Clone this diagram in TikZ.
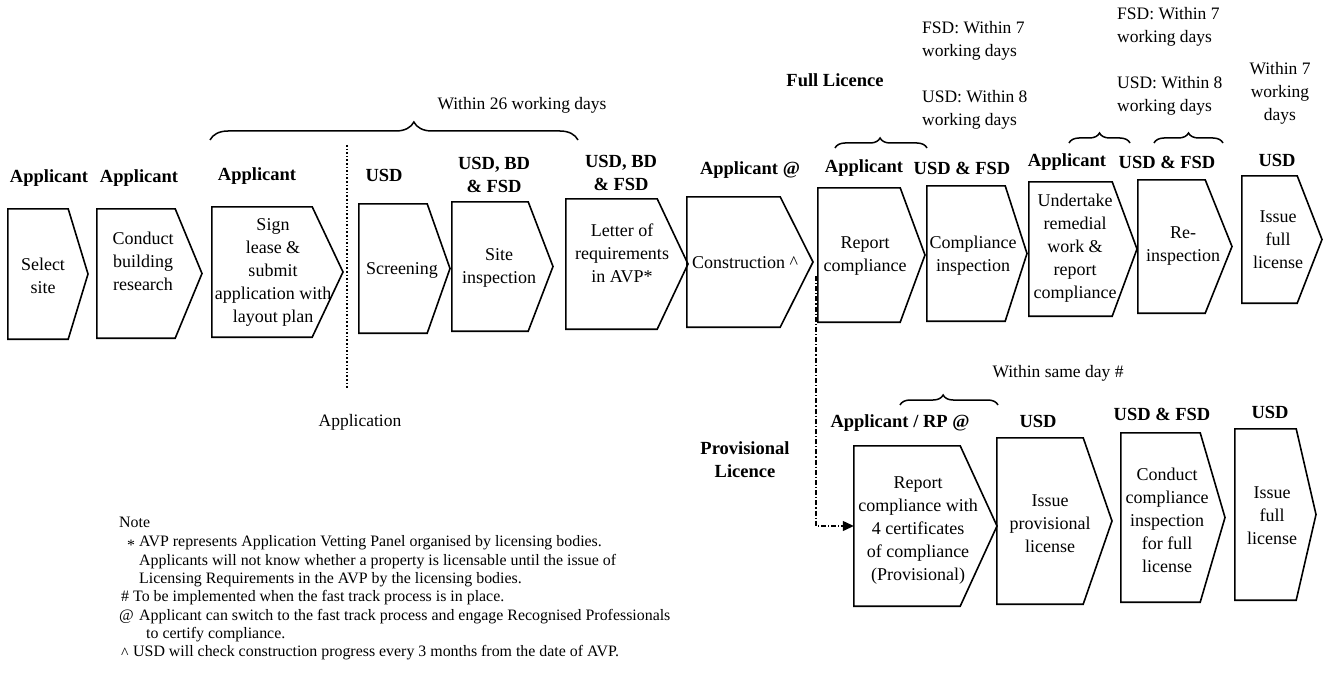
\documentclass[tikz,border=0pt]{standalone}
\usepackage{fontspec}
\setmainfont{Liberation Serif}
\usetikzlibrary{arrows.meta,decorations.pathreplacing,fit}
\tikzset{
  chev/.style={draw=black, line width=1.6pt, line join=miter},
  boxtext/.style={align=center, font=\fontsize{18}{23}\selectfont, inner sep=0pt},
  role/.style={align=center, font=\bfseries\fontsize{18.5}{23}\selectfont, inner sep=0pt},
  ann/.style={align=center, font=\fontsize{17.5}{23}\selectfont, inner sep=0pt},
  notetext/.style={font=\fontsize{15.9}{18.5}\selectfont, inner sep=0pt, anchor=base west},
  bracestyle/.style={decorate, line width=1.5pt},
  flow/.style={line width=1.2pt, dash pattern=on 5pt off 2pt on 1.2pt off 2pt, -{Triangle[length=11pt,width=10pt]}},
  divider/.style={dotted, line width=1.6pt}
}
\newcommand{\mkchev}[6]{%
  \node[fit={(#2,-#3) (#4,-#6)}, inner sep=0pt] (#1) {};
  \coordinate (#1-tip) at ({#5},{-(#3+#6)/2});
  \draw[chev] (#1.north west) -- (#1.north east) -- (#1-tip) -- (#1.south east) -- (#1.south west) -- cycle;
}
\begin{document}
\begin{tikzpicture}[x=1pt,y=1pt]
\fill[white] (0,0) rectangle (1328,-682);
\useasboundingbox (0,0) rectangle (1328,-682);

% upper row shapes
\mkchev{b1}{8}{209}{68}{88}{339}
\mkchev{b2}{97}{209}{175}{202}{338}
\mkchev{b3}{212}{207}{312}{343}{337}
\mkchev{b4}{359}{204}{427}{450}{333}
\mkchev{b5}{452}{202}{528}{553}{331}
\mkchev{b6}{566}{199}{657}{688}{329}
\mkchev{b7}{687}{197}{780}{813}{327}
\mkchev{b8}{818}{188}{900}{925}{322}
\mkchev{b9}{927}{186}{1005}{1027}{321}
\mkchev{b10}{1029}{182}{1112}{1137}{316}
\mkchev{b11}{1138}{180}{1205}{1232}{313}
\mkchev{b12}{1242}{176}{1297}{1322}{303}

% lower row shapes
\mkchev{bA}{854}{446}{960}{997}{606}
\mkchev{bB}{997}{438}{1083}{1112}{604}
\mkchev{bC}{1121}{433}{1200}{1225}{602}
\mkchev{bD}{1235}{429}{1296}{1316}{600}

% upper box texts
\node[boxtext] (t1) at (43,-276) {Select\\site};
\node[boxtext] (t2) at (143,-261) {Conduct\\building\\research};
\node[boxtext] (t3) at (273,-272) {Sign\\lease \&\\submit\\application with\\layout plan};
\node[boxtext] (t4) at (402,-270) {Screening};
\node[boxtext] (t5) at (499,-268) {Site\\inspection};
\node[boxtext] (t6) at (622,-253) {Letter of\\requirements\\in AVP*};
\node[boxtext] (t7) at (745,-263) {Construction \textasciicircum};
\node[boxtext] (t8) at (865,-256) {Report\\compliance};
\node[boxtext] (t9) at (973,-256) {Compliance\\inspection};
\node[boxtext] (t10) at (1075,-248) {Undertake\\remedial\\work \&\\report\\compliance};
\node[boxtext] (t11) at (1183,-246) {Re-\\inspection};
\node[boxtext] (t12) at (1278,-240) {Issue\\full\\license};

% lower box texts
\node[boxtext] (tA) at (918,-531) {Report\\compliance with\\4 certificates\\of compliance\\(Provisional)};
\node[boxtext] (tB) at (1050,-524) {Issue\\provisional\\license};
\node[boxtext] (tC) at (1167,-520) {Conduct\\compliance\\inspection\\for full\\license};
\node[boxtext] (tD) at (1272,-516) {Issue\\full\\license};

% role labels upper
\node[role] (r1) at (49,-178) {Applicant};
\node[role] (r2) at (139,-178) {Applicant};
\node[role] (r3) at (257,-176) {Applicant};
\node[role] (r4) at (384,-175) {USD};
\node[role] (r5) at (494,-175) {USD, BD\\\& FSD};
\node[role] (r6) at (621,-173) {USD, BD\\\& FSD};
\node[role] (r7) at (750,-170) {Applicant @};
\node[role] (r8) at (864,-168) {Applicant};
\node[role] (r9) at (962,-168) {USD \& FSD};
\node[role] (r10) at (1067,-162) {Applicant};
\node[role] (r11) at (1167,-162) {USD \& FSD};
\node[role] (r12) at (1277,-160) {USD};

% role labels lower
\node[role] (prov) at (745,-460) {Provisional\\Licence};
\node[role] (rA) at (900,-423) {Applicant / RP @};
\node[role] (rB) at (1038,-421) {USD};
\node[role] (rC) at (1162,-414) {USD \& FSD};
\node[role] (rD) at (1270,-412) {USD};

% annotations
\node[ann] (w26) at (522,-105) {Within 26 working days};
\node[role] (full) at (835,-80) {Full Licence};
\node[ann, align=left, anchor=west] (fsd9) at (922,-41) {FSD: Within 7\\working days};
\node[ann, align=left, anchor=west] (usd9) at (922,-110) {USD: Within 8\\working days};
\node[ann, align=left, anchor=west] (fsd11) at (1117,-27) {FSD: Within 7\\working days};
\node[ann, align=left, anchor=west] (usd11) at (1117,-96) {USD: Within 8\\working days};
\node[ann] (w7) at (1280,-93) {Within 7\\working\\days};
\node[ann] (wsd) at (1058,-373) {Within same day \#};
\node[ann] (appl) at (360,-422) {Application};

% braces
\coordinate (br1l) at (210,-140); \coordinate (br1r) at (578,-140);
\draw[bracestyle, decoration={brace, amplitude=18pt, aspect=0.554}] (br1l) -- (br1r);
\coordinate (br2l) at (835,-148); \coordinate (br2r) at (927,-148);
\draw[bracestyle, decoration={brace, amplitude=10pt, aspect=0.49}] (br2l) -- (br2r);
\coordinate (br3l) at (1069,-143); \coordinate (br3r) at (1130,-143);
\draw[bracestyle, decoration={brace, amplitude=10pt, aspect=0.5}] (br3l) -- (br3r);
\coordinate (br4l) at (1154,-143); \coordinate (br4r) at (1223,-143);
\draw[bracestyle, decoration={brace, amplitude=10pt, aspect=0.5}] (br4l) -- (br4r);
\coordinate (br5l) at (900,-405); \coordinate (br5r) at (998,-405);
\draw[bracestyle, decoration={brace, amplitude=10pt, aspect=0.44}] (br5l) -- (br5r);

% divider
\coordinate (divtop) at (347,-145); \coordinate (divbot) at (347,-388);
\draw[divider] (divtop) -- (divbot);

% provisional branch
\coordinate (split) at (816,-276);
\draw[flow] (split) |- (bA.west);

% notes
\node[notetext] (n0) at (119,-527) {Note};
\node[notetext] (n1b) at (127,-550) {*};
\node[notetext] (n1) at (139,-546) {AVP represents Application Vetting Panel organised by licensing bodies.};
\node[notetext] (n2) at (139,-565) {Applicants will not know whether a property is licensable until the issue of};
\node[notetext] (n3) at (139,-583) {Licensing Requirements in the AVP by the licensing bodies.};
\node[notetext] (n4b) at (121,-601) {\#};
\node[notetext] (n4) at (133,-601) {To be implemented when the fast track process is in place.};
\node[notetext] (n5b) at (119,-620) {@};
\node[notetext] (n5) at (139,-620) {Applicant can switch to the fast track process and engage Recognised Professionals};
\node[notetext] (n6) at (146,-638) {to certify compliance.};
\node[notetext] (n7b) at (121,-658) {\textasciicircum};
\node[notetext] (n7) at (133,-656) {USD will check construction progress every 3 months from the date of AVP.};
\end{tikzpicture}
\end{document}
